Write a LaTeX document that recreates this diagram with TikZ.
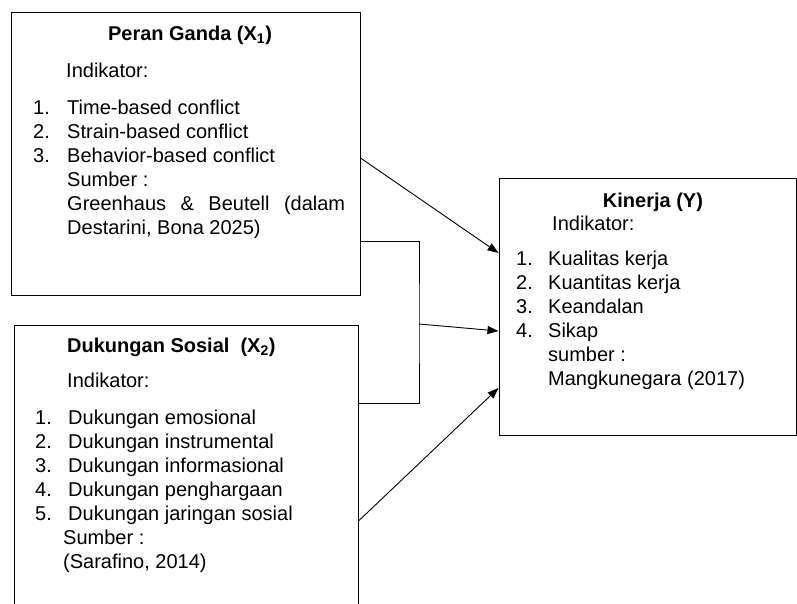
\documentclass[tikz,border=0pt]{standalone}
\usepackage{fontspec}
\setmainfont{Liberation Sans}
\usetikzlibrary{arrows.meta, calc, positioning}

\tikzset{
	varbox/.style={draw, line width=1pt, inner sep=0pt},
	txt/.style={inner sep=0pt, anchor=base west},
	arr/.style={-{Triangle[length=11pt,width=8pt]}, line width=0.9pt},
}

\begin{document}
\begin{tikzpicture}[x=1pt, y=-1pt, font=\fontsize{20}{24}\selectfont]
				\useasboundingbox (0,0) rectangle (797,603);
				\clip (0,0) rectangle (797,603);
				% boxes
				\node (peran) [varbox, minimum width=349pt, minimum height=283pt] at (185.5,153.5) {};
				\node (dukungan) [varbox, minimum width=344pt, minimum height=315pt] at (186,482.5) {};
				\node (kinerja) [varbox, minimum width=297pt, minimum height=257pt] at (647.5,306.5) {};
				% X1
				\node (peran_title) [txt, anchor=base] at (190,40) {\bfseries Peran Ganda (X\textsubscript{1})};
				\node (peran_ind) [txt] at (66,77) {Indikator:};
				\node (peran_list) [txt] at (33,114) {
					\begin{tabular}[t]{@{}p{34pt}@{}l@{}}
						1. & Time-based conflict \\
						2. & Strain-based conflict \\
						3. & Behavior-based conflict \\
						& Sumber : \\
						& \makebox[278pt][s]{Greenhaus \& Beutell (dalam} \\
						& Destarini, Bona 2025)
					\end{tabular}
				};
				% X2
				\node (dukungan_title) [txt] at (67,352) {\bfseries Dukungan Sosial\ \ (X\textsubscript{2})};
				\node (dukungan_ind) [txt] at (67,387) {Indikator:};
				\node (dukungan_list) [txt] at (35,424) {
					\begin{tabular}[t]{@{}p{33pt}@{}l@{}}
						1. & Dukungan emosional \\
						2. & Dukungan instrumental \\
						3. & Dukungan informasional \\
						4. & Dukungan penghargaan \\
						5. & Dukungan jaringan sosial \\
						& \hspace*{-5pt}Sumber : \\
						& \hspace*{-5pt}(Sarafino, 2014)
					\end{tabular}
				};
				% Y
				\node (kinerja_title) [txt, anchor=base] at (653,207) {\bfseries Kinerja (Y)};
				\node (kinerja_ind) [txt] at (552,230) {Indikator:};
				\node (kinerja_list) [txt] at (516,265) {
					\begin{tabular}[t]{@{}p{32pt}@{}l@{}}
						1. & Kualitas kerja \\
						2. & Kuantitas kerja \\
						3. & Keandalan \\
						4. & Sikap \\
						& sumber : \\
						& Mangkunegara (2017)
					\end{tabular}
				};
				% connectors
				\coordinate (join) at (419,324);
				\draw[arr] ([yshift=-4.5pt]peran.east) -- ([yshift=53.5pt]kinerja.west);
				\draw[line width=0.9pt] ([yshift=-87.5pt]peran.east) -| (join) |- ([yshift=79.5pt]dukungan.east);
				\draw[arr] (join) -- ([yshift=-24.5pt]kinerja.west);
				\draw[arr] ([yshift=-38.5pt]dukungan.east) -- ([yshift=-81.5pt]kinerja.west);
			\end{tikzpicture}
\end{document}
